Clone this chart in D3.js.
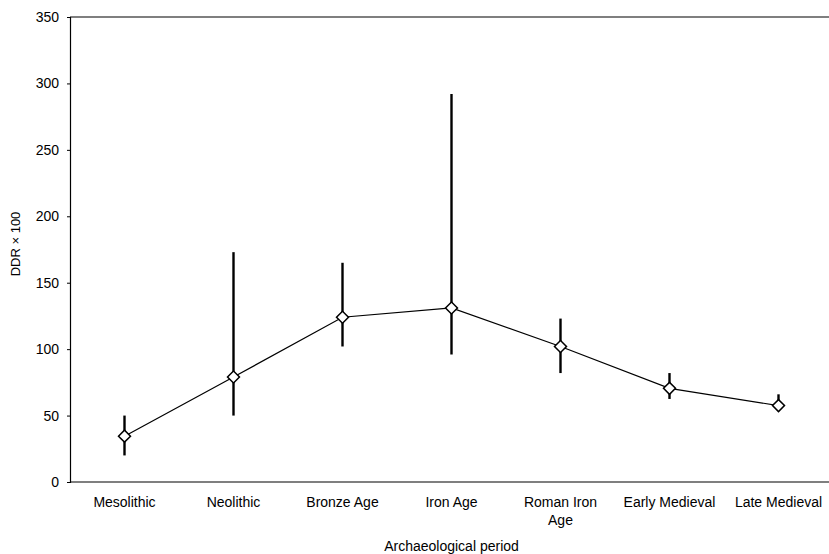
<!DOCTYPE html>
<html>
<head>
<meta charset="utf-8">
<script src="https://cdn.jsdelivr.net/npm/d3@7"></script>
<style>
  html, body { margin: 0; padding: 0; background: #fff; }
  svg { display: block; }
  text { font-family: "Liberation Sans", Arial, sans-serif; fill: #000; }
</style>
</head>
<body>
<svg id="chart" width="829" height="554"></svg>
<script>
const categories = ["Mesolithic", "Neolithic", "Bronze Age", "Iron Age", "Roman Iron Age", "Early Medieval", "Late Medieval"];
const categoryLabels = [["Mesolithic"], ["Neolithic"], ["Bronze Age"], ["Iron Age"], ["Roman Iron", "Age"], ["Early Medieval"], ["Late Medieval"]];
const ddrMean = [34.5, 79, 124, 131, 102, 70.5, 57.5];
const ddrLow = [20, 50, 102, 96, 82, 62.5, 53.5];
const ddrHigh = [50, 173, 165, 292, 123, 82, 66];
const yTicks = [0, 50, 100, 150, 200, 250, 300, 350];
const yTitle = "DDR \u00d7 100";
const xTitle = "Archaeological period";

(function () {
const svg = d3.select("#chart");
const mLeft = 70, mRight = 833, mTop = 17, mBottom = 482;

const x = d3.scaleBand().domain(categories).range([mLeft, mRight]);
const y = d3.scaleLinear().domain([0, 350]).range([mBottom, mTop]);
const cx = c => x(c) + x.bandwidth() / 2;

// Top frame line
svg.append("line").attr("x1", mLeft).attr("x2", 829).attr("y1", mTop).attr("y2", mTop)
  .attr("stroke", "#000").attr("stroke-width", 1.2);

// Bottom axis line
svg.append("line").attr("x1", mLeft).attr("x2", 829).attr("y1", mBottom).attr("y2", mBottom)
  .attr("stroke", "#000").attr("stroke-width", 1.2);

// Y axis
const yAxis = d3.axisLeft(y).tickValues(yTicks).tickSize(3).tickPadding(8).tickFormat(d3.format("d"));
const gy = svg.append("g").attr("transform", `translate(${mLeft},0)`).call(yAxis);
gy.select(".domain").attr("stroke", "#000").attr("stroke-width", 1.2);
gy.selectAll(".tick line").attr("stroke", "#000");
gy.selectAll(".tick text").style("font-size", "14px").style("font-family", "'Liberation Sans', Arial, sans-serif");

// X labels
categories.forEach((c, i) => {
  const t = svg.append("text").attr("x", cx(c)).attr("y", 507)
    .attr("text-anchor", "middle").style("font-size", "14px");
  categoryLabels[i].forEach((ln, j) => {
    t.append("tspan").attr("x", cx(c)).attr("dy", j === 0 ? 0 : 18).text(ln);
  });
});

// Axis titles
svg.append("text").attr("x", (mLeft + mRight) / 2).attr("y", 551)
  .attr("text-anchor", "middle").style("font-size", "14px").text(xTitle);
svg.append("text").attr("transform", `translate(20,244) rotate(-90)`)
  .attr("text-anchor", "middle").style("font-size", "13px").text(yTitle);

// Error bars
svg.append("g").selectAll("line").data(categories).join("line")
  .attr("x1", c => cx(c)).attr("x2", c => cx(c))
  .attr("y1", (c, i) => y(ddrLow[i])).attr("y2", (c, i) => y(ddrHigh[i]))
  .attr("stroke", "#000").attr("stroke-width", 2.4);

// Connecting line
const lineGen = d3.line().x((d, i) => cx(categories[i])).y(d => y(d));
svg.append("path").datum(ddrMean).attr("d", lineGen)
  .attr("fill", "none").attr("stroke", "#000").attr("stroke-width", 1.2);

// Diamond markers
const sym = d3.symbol().type(d3.symbolSquare).size(72);
svg.append("g").selectAll("path").data(ddrMean).join("path")
  .attr("d", sym)
  .attr("transform", (d, i) => `translate(${cx(categories[i])},${y(d)}) rotate(45)`)
  .attr("fill", "#fff").attr("stroke", "#000").attr("stroke-width", 1.5);
})();
</script>
</body>
</html>
